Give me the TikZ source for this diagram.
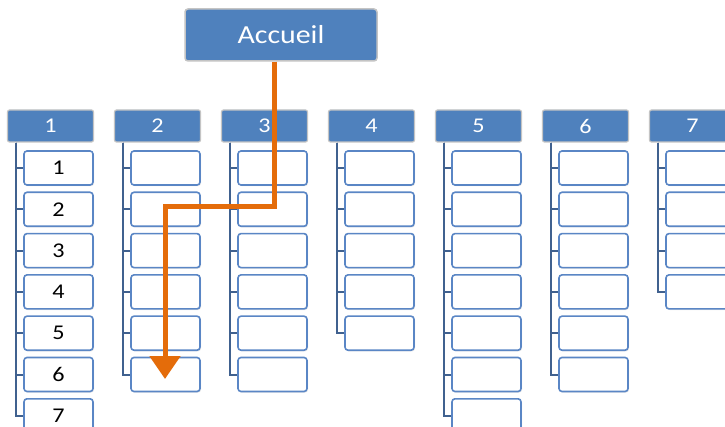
\documentclass[tikz,border=0pt]{standalone}
\usepackage{fontspec}
\setmainfont{Carlito}[FakeStretch=1.15]
\usetikzlibrary{arrows.meta,shadows}
\definecolor{hdrblue}{HTML}{4F81BD}
\definecolor{boxblue}{HTML}{5A86C5}
\definecolor{treeblue}{HTML}{40618F}
\definecolor{arrorange}{HTML}{E46C0A}
\definecolor{hdrgray}{HTML}{C4C4C4}
\tikzset{
  hdr/.style={draw=hdrgray, line width=1.2pt, fill=hdrblue, rounded corners=2pt,
    minimum width=86pt, minimum height=32pt, inner sep=0pt, text=white,
    font=\fontsize{21}{24}\selectfont},
  accbox/.style={draw=hdrgray, line width=1.5pt, fill=hdrblue, rounded corners=3pt,
    minimum width=192pt, minimum height=52pt, inner sep=0pt, text=white,
    font=\fontsize{26}{30}\selectfont},
  childbox/.style={draw=boxblue, line width=1.6pt, fill=white, rounded corners=3pt,
    minimum width=69pt, minimum height=34pt, inner sep=0pt, text=black,
    font=\fontsize{21}{24}\selectfont,
    drop shadow={opacity=0.18, shadow xshift=1pt, shadow yshift=-1.2pt}},
  treeline/.style={draw=treeblue, line width=2pt},
  flow/.style={draw=arrorange, line width=5pt, -{Triangle[width=30pt,length=23pt]}}
}
\begin{document}
\begin{tikzpicture}[x=1pt,y=-1pt]
\useasboundingbox (0,0) rectangle (725,427);
\clip (0,0) rectangle (725,427);
\fill[white] (0,0) rectangle (725,427);
% top node
\node[accbox] (acc) at (281,35) {Accueil};
% columns
\foreach \k/\n in {1/7,2/6,3/6,4/5,5/7,6/6,7/4}{
  \pgfmathsetmacro{\xl}{7+107*(\k-1)}
  \node[hdr] (h\k) at (\xl+43.5,126) {\k};
  \foreach \j in {1,...,\n}{
    \pgfmathsetmacro{\yc}{168+41.3*(\j-1)}
    \ifnum\k=1
      \node[childbox] (c\k-\j) at (\xl+51.5,\yc) {\j};
    \else
      \node[childbox] (c\k-\j) at (\xl+51.5,\yc) {};
    \fi
  }
  \foreach \j in {1,...,\n}{
    \draw[treeline] ([xshift=9pt]h\k.south west) |- (c\k-\j.west);
  }
}
% orange path
\coordinate (b1) at (274,207);
\coordinate (b2) at (165,207);
\coordinate (tip) at (165,379);
\draw[flow, line join=miter] ([xshift=-7pt]acc.south) -- (b1) -- (b2) -- (tip);
\end{tikzpicture}
\end{document}
